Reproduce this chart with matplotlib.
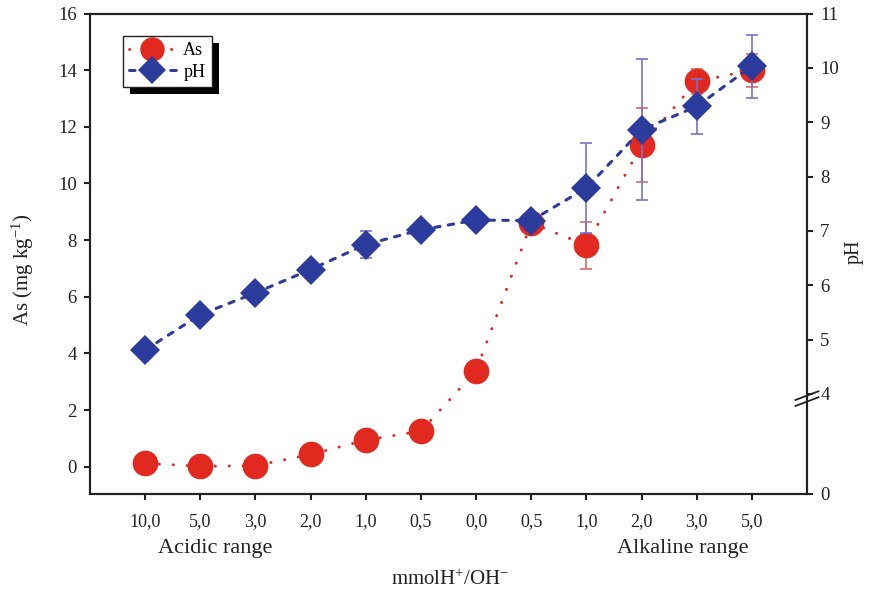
import numpy as np
import matplotlib
matplotlib.use("Agg")
import matplotlib.pyplot as plt
from matplotlib.patches import Rectangle
from matplotlib.transforms import IdentityTransform, blended_transform_factory

plt.rcParams["font.family"] = ["Liberation Serif", "DejaVu Serif"]
plt.rcParams["mathtext.fontset"] = "custom"
plt.rcParams["mathtext.rm"] = "Liberation Serif"
plt.rcParams["mathtext.it"] = "Liberation Serif:italic"

# Categories: mmol of H+ (acidic) / OH- (alkaline) added
tick_labels = ["10,0", "5,0", "3,0", "2,0", "1,0", "0,5",
               "0,0", "0,5", "1,0", "2,0", "3,0", "5,0"]
as_values = [0.12, 0.02, 0.04, 0.44, 0.94, 1.26, 3.39, 8.6, 7.82, 11.35, 13.6, 14.0]
as_errors = [0, 0, 0, 0, 0, 0, 0, 0, 0.83, 1.3, 0.45, 0.58]
ph_values = [4.81, 5.46, 5.86, 6.29, 6.75, 7.02, 7.2, 7.19, 7.79, 8.86, 9.29, 10.03]
ph_errors = [0, 0, 0, 0, 0.24, 0, 0, 0, 0.83, 1.3, 0.5, 0.58]
ph_ticks = [4, 5, 6, 7, 8, 9, 10, 11]

RED = "#e2291f"
BLUE = "#2c3c9c"
RED_ERR = "#e46a66"
BLUE_ERR = "#7474cc"
INK = "#222222"

x = np.arange(len(tick_labels))

fig = plt.figure(figsize=(8.75, 5.89), dpi=100)
ax = fig.add_axes([90 / 875, 1 - 494 / 589, 717 / 875, 480.5 / 589])
ax2 = ax.twinx()
ax.patch.set_visible(False)
ax2.patch.set_visible(False)

# As series (left axis)
as_arr = np.array(as_values)
as_err = np.array(as_errors)
m = as_err > 0
ax.errorbar(x[m], as_arr[m], yerr=as_err[m], fmt="none", ecolor=RED_ERR,
            elinewidth=1.2, capsize=4.5, capthick=1.2, zorder=2)
as_line, = ax.plot(x, as_arr, color=RED, lw=2.1, linestyle=(0, (0.1, 4.7)),
                   dash_capstyle="round", marker="o", markersize=18.5,
                   markeredgewidth=0, label="As", zorder=3)

# pH series (right axis)
ph_arr = np.array(ph_values)
ph_err = np.array(ph_errors)
m2 = ph_err > 0
ax2.errorbar(x[m2], ph_arr[m2], yerr=ph_err[m2], fmt="none", ecolor=BLUE_ERR,
             elinewidth=1.2, capsize=4.5, capthick=1.2, zorder=2)
ph_line, = ax2.plot(x, ph_arr, color=BLUE, lw=2.2, linestyle=(0, (1.8, 2.7)),
                    dash_capstyle="round", marker="D", markersize=15.5,
                    markeredgewidth=0, label="pH", zorder=3)

# Axis limits
ax.set_xlim(-1, 12)
ax.set_ylim(-0.96, 16)
ph_bottom = 2.16
ax2.set_ylim(ph_bottom, 11)

ax.set_xticks(x)
ax.set_xticklabels(tick_labels)
ax.set_yticks(np.arange(0, 17, 2))
ax2.set_yticks([ph_bottom] + ph_ticks)
ax2.set_yticklabels(["0"] + [str(t) for t in ph_ticks])

for a in (ax, ax2):
    for s in a.spines.values():
        s.set_linewidth(1.5)
        s.set_color(INK)
ax.tick_params(axis="y", direction="out", length=4.5, width=1.5,
               colors=INK, labelsize=13.5, pad=5)
ax.tick_params(axis="x", direction="out", length=4.5, width=1.5,
               colors=INK, labelsize=13, pad=9)
ax2.tick_params(axis="y", direction="out", length=4.5, width=1.5,
                colors=INK, labelsize=13.5, pad=5)

# Axis break marks on the pH axis
tr = blended_transform_factory(ax2.transAxes, ax2.transData)
for dy in (0.0, 0.11):
    ax2.plot([1 - 0.016, 1 + 0.016], [3.78 + dy, 3.94 + dy], color=INK,
             lw=1.3, transform=tr, clip_on=False, zorder=6)

# Labels
ax.set_ylabel("As (mg kg$^{\\mathregular{-1}}$)", fontsize=15, color=INK)
ax.yaxis.set_label_coords(-0.093, 0.466)
ax.yaxis.label.set_verticalalignment("center")
ax2.set_ylabel("pH", fontsize=14.5, color=INK, rotation=90)
ax2.yaxis.set_label_coords(1.066, 0.504)
ax2.yaxis.label.set_verticalalignment("center")
ax.set_xlabel("mmolH$^{+}$/OH$^{-}$", fontsize=15, color=INK)
ax.xaxis.set_label_coords(0.503, -0.178)
ax.xaxis.label.set_verticalalignment("center")

fig.text(215 / 875, 1 - 549 / 589, "Acidic range", fontsize=16, color=INK,
         ha="center", va="center")
fig.text(683 / 875, 1 - 549 / 589, "Alkaline range", fontsize=16, color=INK,
         ha="center", va="center")

# Legend with a solid drop shadow
leg = ax2.legend(handles=[as_line, ph_line], loc="upper left",
                 bbox_to_anchor=((122.7 - 90) / 717, (494 - 35.7) / 480.5),
                 borderaxespad=0, fancybox=False, frameon=True, framealpha=1,
                 edgecolor=INK, fontsize=13, handlelength=2.6,
                 handletextpad=0.4, borderpad=0.35, labelspacing=0.25,
                 numpoints=1, markerscale=0.95)
leg.get_frame().set_linewidth(1.0)
leg.set_zorder(10)

fig.canvas.draw()
bb = leg.get_window_extent()
off = 7
shadow = Rectangle((bb.x0 + off, bb.y0 - off), bb.width, bb.height,
                   transform=IdentityTransform(), facecolor="black",
                   edgecolor="none", zorder=9)
ax2.add_artist(shadow)
shadow.set_clip_on(False)

fig.savefig("out.png", dpi=100)
